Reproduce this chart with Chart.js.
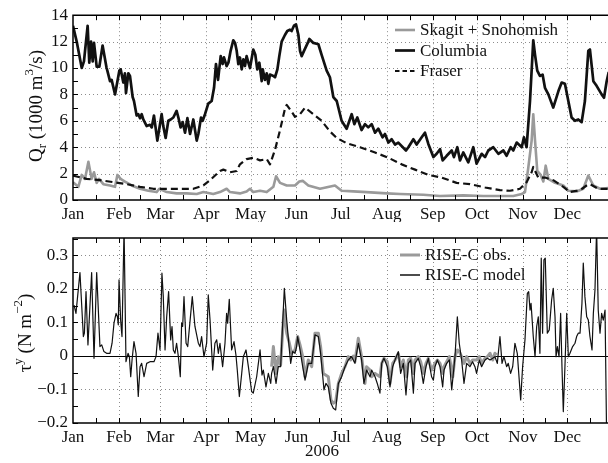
<!DOCTYPE html>
<html>
<head>
<meta charset="utf-8">
<script src="https://cdn.jsdelivr.net/npm/chart.js@4/dist/chart.umd.min.js"></script>
<style>
  html, body { margin: 0; padding: 0; background: #fff; overflow: hidden; }
  #wrap { position: relative; width: 608px; height: 463px; }
  #top, #bot { position: absolute; left: 0; width: 608px; }
  #top { top: 0; height: 222px; }
  #bot { top: 222px; height: 241px; }
  canvas { display: block; }
</style>
</head>
<body>
<div id="wrap">
  <div id="top"><canvas id="flow" width="608" height="222"></canvas></div>
  <div id="bot"><canvas id="stress" width="608" height="241"></canvas></div>
</div>
<script>
// ---- calendar axis (day of year 2006) ----
const monthStarts = [0, 31, 59, 90, 120, 151, 181, 212, 243, 273, 304, 334];
const monthNames = ['Jan', 'Feb', 'Mar', 'Apr', 'May', 'Jun', 'Jul', 'Aug', 'Sep', 'Oct', 'Nov', 'Dec'];
const yearLabel = '2006';
const dayEnd = 361.5;

// ---- river discharge, 1000 m^3/s : [day, Q] ----
const skagitSnohomish = [
  [0,1.35],[3.6,1.0],[5.9,1.9],[8.1,1.6],[10.4,2.9],[12.6,1.6],[14.2,2.1],[16.0,1.3],[17.6,1.6],
  [20.5,1.2],[25.0,1.1],[28.4,1.0],[30.0,1.9],[32.2,1.6],[35.1,1.4],[39.6,1.1],[45.3,0.85],
  [50.9,0.7],[56.5,0.6],[58.3,0.85],[63.3,0.6],[70.0,0.5],[76.8,0.5],[83.6,0.45],[88.1,0.6],
  [94.8,0.45],[99.3,0.6],[103.8,0.85],[106.1,0.6],[112.8,0.5],[117.3,0.65],[119.6,0.85],
  [121.8,0.6],[126.4,0.7],[130.9,0.6],[135.4,1.0],[137.2,1.8],[139.9,1.3],[144.4,1.1],
  [150.0,1.1],[152.9,1.4],[155.2,1.45],[159.0,1.1],[166.9,0.85],[177.0,1.1],[181.5,0.7],
  [189.4,0.65],[198.4,0.6],[211.9,0.5],[221.0,0.45],[236.7,0.4],[248.0,0.3],[263.7,0.35],
  [277.3,0.3],[297.5,0.3],[303.2,0.45],[305.4,0.6],[307.7,2.5],[309.9,4.5],[311.0,6.5],
  [312.2,4.5],[313.7,2.2],[316.0,1.9],[317.8,1.4],[319.4,2.6],[321.2,1.6],[325.7,1.3],
  [331.3,1.1],[334.7,0.7],[340.3,0.65],[344.8,0.85],[348.2,1.85],[351.6,1.1],[356.1,0.85],
  [362.0,0.9]
];

const columbia = [
  [0,13.2],[2.5,12.0],[5.9,10.0],[7.4,10.5],[9.9,13.2],[11.0,10.4],[12.2,12.0],[13.3,10.5],
  [14.2,11.9],[16.0,10.1],[17.8,10.1],[20.0,11.7],[22.7,10.0],[23.2,9.8],[25.0,9.0],[26.1,9.1],
  [28.4,8.0],[31.3,9.8],[32.2,9.9],[34.0,8.9],[35.1,9.6],[35.8,8.1],[37.4,9.6],[38.5,9.4],
  [40.3,7.8],[41.2,7.5],[43.0,6.4],[44.1,6.5],[45.3,6.2],[46.4,6.5],[47.5,6.1],[49.8,5.6],
  [52.0,5.7],[53.2,5.5],[54.7,6.4],[57.0,4.5],[59.9,6.5],[61.0,5.6],[62.6,4.7],[64.4,6.0],
  [66.0,6.1],[67.8,6.25],[70.0,6.75],[71.2,6.25],[72.7,5.5],[74.1,5.9],[75.7,5.1],[77.3,6.2],
  [79.1,5.0],[81.3,6.1],[83.6,4.5],[84.7,5.0],[86.5,6.25],[87.6,6.0],[89.2,6.5],[91.4,7.3],
  [93.7,7.5],[95.3,8.5],[96.6,10.3],[98.0,9.1],[99.8,10.9],[101.1,10.3],[102.0,10.8],
  [103.8,10.15],[105.0,10.4],[106.5,11.3],[108.3,12.1],[109.5,11.9],[110.6,11.3],[111.7,10.3],
  [112.8,10.8],[114.0,9.9],[115.1,10.65],[116.2,10.15],[117.3,10.9],[118.5,10.4],[119.6,10.0],
  [121.8,11.4],[123.2,11.0],[124.5,9.9],[125.9,10.4],[127.5,9.0],[128.2,9.9],[129.7,9.1],
  [130.9,9.6],[132.0,8.8],[133.1,9.5],[135.4,9.4],[136.5,9.3],[138.1,9.9],[139.4,10.9],
  [141.0,12.0],[143.2,12.5],[144.8,12.8],[146.6,12.9],[147.7,12.8],[149.3,13.2],[150.7,13.3],
  [152.3,12.5],[153.4,11.3],[154.5,10.9],[156.1,11.3],[159.0,12.0],[159.7,12.2],[162.4,11.9],
  [165.8,11.8],[168.0,11.0],[171.4,9.8],[173.6,9.3],[175.9,7.8],[178.2,7.5],[181.5,6.0],
  [184.9,5.4],[188.3,6.5],[190.1,5.75],[192.1,6.25],[195.0,5.3],[197.3,5.75],[199.5,5.5],
  [201.8,5.75],[204.1,5.1],[206.3,5.4],[209.2,4.75],[210.8,5.0],[213.1,4.35],[215.3,4.6],
  [217.6,4.2],[219.8,4.35],[225.0,3.75],[226.6,4.0],[230.0,4.6],[232.2,4.2],[235.6,4.75],
  [237.8,5.1],[240.1,4.25],[243.5,3.25],[245.7,3.5],[248.0,3.85],[249.8,3.0],[252.5,3.35],
  [255.9,3.75],[257.4,3.25],[259.7,4.0],[261.5,3.0],[263.7,3.6],[267.1,2.85],[270.5,4.0],
  [272.7,2.75],[276.1,3.5],[278.4,3.25],[280.6,3.75],[284.0,4.0],[287.4,3.5],[290.8,3.75],
  [293.0,3.35],[295.7,4.0],[297.5,3.75],[299.8,4.35],[303.2,4.0],[304.7,4.75],[306.5,4.0],
  [308.8,7.5],[311.0,12.1],[312.2,11.0],[313.7,9.8],[315.5,9.4],[317.3,9.5],[318.9,8.5],
  [321.2,8.0],[324.5,7.0],[328.0,8.25],[330.2,8.9],[332.4,8.8],[334.7,7.5],[336.9,6.25],
  [339.2,6.0],[341.4,6.1],[343.7,5.9],[345.9,7.5],[348.2,11.3],[349.3,11.4],[351.6,9.0],
  [353.8,8.65],[357.2,8.0],[358.8,7.75],[360.6,9.0],[362.0,9.7]
];

const fraser = [
  [0,1.85],[9.2,1.6],[18.2,1.5],[27.3,1.35],[36.3,1.2],[45.3,1.0],[54.3,0.85],[72.3,0.85],
  [81.3,0.85],[88.1,1.1],[92.6,1.5],[99.3,2.2],[101.6,2.3],[106.1,2.1],[110.6,2.2],[112.8,2.7],
  [117.3,3.1],[121.8,3.2],[126.4,3.0],[130.9,3.1],[133.1,2.7],[136.5,3.8],[139.9,5.3],
  [143.2,6.9],[144.4,7.2],[147.7,6.7],[150.0,6.3],[153.4,6.5],[156.8,7.0],[162.4,6.5],
  [168.0,6.0],[173.6,5.2],[178.2,4.7],[184.9,4.3],[193.9,4.0],[204.1,3.6],[213.1,3.2],
  [222.1,2.7],[231.1,2.3],[240.1,1.9],[249.1,1.7],[259.2,1.3],[268.2,1.2],[278.4,0.95],
  [288.5,0.75],[295.3,0.7],[302.0,0.85],[306.5,1.35],[309.9,2.1],[311.0,2.5],[314.4,1.7],
  [318.9,1.7],[324.5,1.5],[331.3,1.0],[335.8,0.6],[342.6,0.75],[347.1,1.1],[349.3,1.2],
  [354.9,0.85],[362.0,0.85]
];

// ---- alongshore wind stress, N m^-2 : [day, tau] ----
const riseObs = [
  [134.2,-0.032],[135.4,0.028],[137.2,-0.052],[138.7,-0.002],[140.3,-0.027],[142.1,0.107],
  [142.8,0.137],[144.4,0.068],[146.2,0.038],[147.7,0.008],[150.0,0.018],[151.8,0.058],
  [153.4,0.033],[155.2,-0.002],[156.8,-0.062],[159.0,-0.012],[161.3,-0.032],[163.5,0.068],
  [165.8,0.068],[167.3,0.028],[169.1,-0.052],[172.5,-0.062],[174.3,-0.131],[175.9,-0.141],
  [177.5,-0.136],[179.3,-0.082],[181.5,-0.052],[183.8,-0.032],[186.0,-0.002],[187.6,-0.012],
  [189.4,0.0],[190.5,-0.017],[192.8,0.053],[195.0,-0.002],[197.3,-0.082],[198.4,-0.032],
  [200.7,-0.042],[201.8,-0.062],[204.1,-0.052],[207.4,-0.062],[208.6,-0.022],[210.1,-0.007],
  [212.4,-0.017],[214.2,-0.082],[216.0,-0.022],[217.6,-0.012],[219.8,0.008],[221.4,-0.032],
  [223.2,-0.012],[225.5,-0.062],[226.6,-0.012],[228.2,-0.007],[230.0,-0.052],[231.1,-0.012],
  [233.3,-0.002],[234.9,-0.017],[236.7,-0.052],[238.5,-0.022],[240.1,-0.007],[242.3,-0.042],
  [244.6,-0.022],[246.2,-0.012],[248.0,-0.022],[249.8,-0.052],[250.7,-0.032],[252.5,-0.017],
  [254.3,-0.002],[256.6,-0.062],[258.1,-0.002],[259.7,0.018],[261.0,0.013],[262.6,-0.002],
  [264.2,-0.022],[266.0,-0.002],[268.2,-0.022],[270.0,-0.012],[272.7,-0.012],[274.5,-0.002],
  [276.1,-0.022],[278.4,-0.007],[280.0,-0.002],[281.8,0.008],[283.6,-0.012],[285.1,0.008],
  [286.3,0.003]
];

const riseModel = [
  [0.7,0.152],[2.0,0.127],[4.7,0.249],[7.0,0.058],[7.7,0.068],[8.8,0.192],[10.1,0.033],
  [12.6,0.249],[14.2,-0.007],[16.0,0.249],[18.2,0.028],[19.4,0.033],[20.9,0.013],[22.7,0.008],
  [25.0,0.008],[26.4,0.038],[27.7,0.098],[29.1,0.127],[30.0,0.117],[30.6,0.093],[31.1,0.227],
  [32.2,0.107],[32.7,0.078],[33.1,0.058],[34.5,0.38],[35.8,-0.017],[37.2,0.008],[38.1,-0.002],
  [39.0,-0.062],[39.9,-0.012],[41.2,0.043],[42.6,0.008],[44.1,-0.121],[45.3,-0.032],
  [46.4,-0.022],[48.0,-0.062],[49.8,-0.022],[52.0,-0.017],[54.7,-0.017],[56.1,-0.002],
  [57.4,0.068],[58.8,0.018],[60.1,0.247],[61.0,0.177],[62.2,0.018],[63.3,0.117],[64.6,0.192],
  [66.0,0.048],[66.9,0.088],[67.8,0.018],[68.9,0.008],[70.0,0.038],[71.2,-0.002],[72.5,-0.062],
  [73.4,0.098],[74.1,0.088],[75.0,0.177],[76.4,0.038],[77.5,0.028],[80.6,0.177],[82.4,0.088],
  [84.7,0.038],[85.8,0.028],[86.9,0.058],[88.5,-0.002],[90.3,0.038],[91.4,0.182],[92.6,0.107],
  [94.4,-0.042],[95.9,0.038],[97.1,0.048],[98.2,0.008],[99.3,0.038],[101.1,-0.032],
  [102.7,0.038],[103.8,0.127],[104.5,0.098],[105.6,0.169],[107.2,0.018],[108.8,0.043],
  [110.1,0.003],[111.0,-0.042],[112.4,-0.121],[114.0,-0.052],[115.1,-0.002],[116.9,0.018],
  [118.5,-0.032],[120.7,-0.106],[121.8,-0.111],[124.1,-0.062],[126.4,0.018],[127.7,-0.057],
  [128.6,-0.042],[130.4,-0.092],[132.0,-0.052],[133.6,-0.082],[134.2,-0.052],[135.4,-0.032],
  [137.2,-0.082],[138.7,-0.032],[140.3,-0.032],[142.1,0.137],[142.8,0.202],[144.4,0.107],
  [146.2,0.018],[147.1,-0.022],[148.4,0.013],[150.0,0.008],[151.1,0.028],[151.8,0.058],
  [153.4,0.018],[155.2,-0.032],[156.8,-0.072],[159.0,-0.022],[161.3,-0.022],[163.5,0.063],
  [165.8,0.058],[167.3,0.008],[169.6,-0.101],[170.9,-0.082],[172.5,-0.092],[174.3,-0.141],
  [175.9,-0.156],[177.5,-0.161],[179.3,-0.082],[181.5,-0.062],[183.8,-0.032],[186.0,-0.012],
  [188.3,-0.002],[190.5,-0.022],[192.8,0.038],[195.0,-0.012],[196.6,-0.082],[198.4,-0.042],
  [200.7,-0.062],[201.8,-0.042],[204.1,-0.062],[205.6,-0.082],[207.4,-0.111],[208.6,-0.022],
  [210.1,-0.007],[212.4,-0.032],[214.2,-0.092],[216.0,-0.032],[217.6,-0.012],[219.8,0.013],
  [221.4,-0.052],[223.2,-0.022],[225.0,-0.116],[226.6,-0.022],[228.2,-0.012],[230.0,-0.111],
  [231.1,-0.022],[233.3,-0.007],[234.9,-0.032],[236.7,-0.082],[238.5,-0.032],[240.1,-0.007],
  [242.3,-0.062],[243.5,-0.072],[244.6,-0.032],[246.2,-0.012],[248.0,-0.032],[249.8,-0.092],
  [250.7,-0.042],[252.5,-0.022],[254.3,-0.012],[255.9,-0.101],[258.1,-0.002],[259.7,0.117],
  [261.0,0.038],[262.6,-0.012],[264.2,-0.082],[266.0,-0.022],[268.2,-0.032],[270.0,-0.017],
  [271.6,-0.032],[272.7,-0.052],[274.5,-0.012],[276.1,-0.032],[278.4,-0.012],[280.0,-0.007],
  [281.8,-0.012],[283.6,-0.007],[285.1,-0.002],[286.7,-0.022],[288.5,0.058],[289.9,-0.022],
  [291.2,-0.002],[293.0,-0.032],[294.1,-0.022],[295.7,-0.052],[297.1,-0.032],[298.6,0.038],
  [300.2,0.008],[302.5,-0.131],[303.8,-0.032],[305.4,0.048],[307.0,0.187],[307.9,0.192],
  [308.8,0.137],[309.5,0.157],[311.0,0.058],[312.2,-0.002],[313.3,0.088],[314.4,0.117],
  [315.5,0.008],[316.4,0.292],[317.3,0.068],[318.2,0.287],[319.1,0.292],[320.5,0.068],
  [321.8,0.078],[323.4,0.167],[324.5,0.202],[325.7,0.117],[326.4,-0.002],[327.3,0.028],
  [328.4,-0.002],[329.5,0.127],[330.4,-0.032],[331.3,-0.166],[332.4,-0.032],[333.6,0.127],
  [334.7,-0.002],[335.8,0.008],[337.6,0.028],[339.2,0.038],[340.3,0.058],[341.4,0.068],
  [342.6,0.068],[343.9,0.157],[344.8,0.277],[345.9,0.177],[347.1,0.117],[348.2,0.107],
  [349.3,0.058],[350.7,0.018],[351.6,0.127],[352.7,0.197],[353.8,0.38],[354.9,0.137],
  [356.1,0.068],[357.2,0.127],[358.3,0.107],[359.5,0.137],[360.6,-0.25]
];

const qTicks = [0, 2, 4, 6, 8, 10, 12, 14];
const tauTicks = [-0.2, -0.1, 0, 0.1, 0.2, 0.3];

// ---- drawing helpers ----
const SERIF = '"Liberation Serif", "Times New Roman", serif';
const INK = '#111';
const GREY = '#9a9a9a';
const asXY = pairs => pairs.map(([d, v]) => ({ x: d, y: v }));
const midMonths = monthStarts.map((d, i) => (d + (i < 11 ? monthStarts[i + 1] : 365)) / 2);

function fmtTau(v) {
  if (Math.abs(v) < 1e-9) return '0';
  return (v < 0 ? '\u2212' : '') + Math.abs(v).toFixed(1);
}

// rotated axis label assembled from pieces (sub/superscripts use a vertical offset "dy")
function drawRotatedRich(ctx, pieces, x, yMid) {
  ctx.save();
  ctx.translate(x, yMid);
  ctx.rotate(-Math.PI / 2);
  ctx.textBaseline = 'alphabetic';
  ctx.textAlign = 'left';
  ctx.fillStyle = INK;
  const widths = pieces.map(p => { ctx.font = p.size + 'px ' + SERIF; return ctx.measureText(p.text).width; });
  let cx = -widths.reduce((s, w) => s + w, 0) / 2;
  pieces.forEach((p, i) => {
    ctx.font = p.size + 'px ' + SERIF;
    ctx.fillText(p.text, cx, p.dy);
    cx += widths[i];
  });
  ctx.restore();
}

// axes box, dotted grid, inward ticks, legend and titles for one panel
function makeFrame(cfg) {
  return {
    id: 'frame',
    beforeDatasetsDraw(chart) {
      const { ctx, chartArea: a } = chart;
      const xs = chart.scales.x, ys = chart.scales.y;
      ctx.save();
      ctx.beginPath();
      ctx.rect(a.left, a.top, a.right - a.left, a.bottom - a.top);
      ctx.clip();
      ctx.strokeStyle = '#8c8c8c';
      ctx.lineWidth = 1;
      ctx.setLineDash([1, 3]);
      ctx.beginPath();
      monthStarts.slice(1).forEach(d => {
        const px = Math.round(xs.getPixelForValue(d)) + 0.5;
        ctx.moveTo(px, a.top); ctx.lineTo(px, a.bottom);
      });
      cfg.gridY.forEach(v => {
        const py = Math.round(ys.getPixelForValue(v)) + 0.5;
        ctx.moveTo(a.left, py); ctx.lineTo(a.right, py);
      });
      ctx.stroke();
      ctx.setLineDash([]);
      if (cfg.zeroLine) {
        const py = Math.round(ys.getPixelForValue(0)) + 0.5;
        ctx.strokeStyle = '#000';
        ctx.lineWidth = 1;
        ctx.beginPath(); ctx.moveTo(a.left, py); ctx.lineTo(a.right, py); ctx.stroke();
      }
      ctx.restore();
    },
    afterDatasetsDraw(chart) {
      const { ctx, chartArea: a } = chart;
      const xs = chart.scales.x, ys = chart.scales.y;
      ctx.save();
      // box: the right-hand side runs off the page
      ctx.strokeStyle = '#000';
      ctx.lineWidth = 1.5;
      ctx.beginPath();
      ctx.moveTo(a.right + 1, a.top); ctx.lineTo(a.left, a.top);
      ctx.lineTo(a.left, a.bottom); ctx.lineTo(a.right + 1, a.bottom);
      ctx.stroke();
      // inward tick marks
      ctx.lineWidth = 1;
      ctx.beginPath();
      monthStarts.concat(midMonths).forEach(d => {
        if (d <= 0 || d >= dayEnd) return;
        const px = Math.round(xs.getPixelForValue(d)) + 0.5;
        ctx.moveTo(px, a.bottom); ctx.lineTo(px, a.bottom - 5);
        ctx.moveTo(px, a.top); ctx.lineTo(px, a.top + 5);
      });
      for (let k = 0; ; k++) {
        const v = cfg.minor.from + k * cfg.minor.step;
        if (v > cfg.minor.to + 1e-9) break;
        const py = Math.round(ys.getPixelForValue(v)) + 0.5;
        ctx.moveTo(a.left, py); ctx.lineTo(a.left + 5, py);
      }
      ctx.stroke();
      // legend, drawn without a box
      const L = cfg.legend;
      ctx.font = L.size + 'px ' + SERIF;
      ctx.textBaseline = 'middle';
      ctx.textAlign = 'left';
      L.items.forEach((it, i) => {
        const yy = L.y + i * L.dy;
        ctx.strokeStyle = it.color;
        ctx.lineWidth = it.width;
        ctx.setLineDash(it.dash || []);
        ctx.beginPath(); ctx.moveTo(L.x0, yy); ctx.lineTo(L.x1, yy); ctx.stroke();
        ctx.setLineDash([]);
        ctx.fillStyle = INK;
        ctx.fillText(it.label, L.tx, yy + 1);
      });
      // axis titles
      drawRotatedRich(ctx, cfg.yTitle.pieces, cfg.yTitle.x, cfg.yTitle.y);
      if (cfg.xTitle) {
        ctx.font = cfg.xTitle.size + 'px ' + SERIF;
        ctx.textAlign = 'center';
        ctx.textBaseline = 'middle';
        ctx.fillStyle = INK;
        ctx.fillText(cfg.xTitle.text, cfg.xTitle.x, cfg.xTitle.y);
      }
      ctx.restore();
    }
  };
}

function xAxis(height) {
  return {
    type: 'linear', min: 0, max: dayEnd,
    afterBuildTicks: s => { s.ticks = monthStarts.map(v => ({ value: v })); },
    afterFit: s => { s.height = height; },
    grid: { display: false, drawTicks: false, tickLength: 0 },
    border: { display: false },
    ticks: {
      autoSkip: false, maxRotation: 0, padding: 4, color: INK,
      font: { family: SERIF, size: 17 },
      callback: v => monthNames[monthStarts.indexOf(v)]
    }
  };
}

function yAxis(min, max, tickVals, fmt) {
  return {
    type: 'linear', min, max,
    afterBuildTicks: s => { s.ticks = tickVals.map(v => ({ value: v })); },
    afterFit: s => { s.width = 73; },
    grid: { display: false, drawTicks: false, tickLength: 0 },
    border: { display: false },
    ticks: { padding: 5, color: INK, font: { family: SERIF, size: 17 }, callback: fmt }
  };
}

function baseOptions(padTop, xs, ys) {
  return {
    responsive: false,
    animation: false,
    events: [],
    elements: { point: { radius: 0 }, line: { tension: 0, borderJoinStyle: 'round', borderCapStyle: 'butt' } },
    layout: { padding: { top: padTop, left: 0, right: 0, bottom: 0 } },
    scales: { x: xs, y: ys },
    plugins: { legend: { display: false }, tooltip: { enabled: false } }
  };
}

// ---- upper panel: river discharge ----
new Chart(document.getElementById('flow'), {
  type: 'line',
  data: {
    datasets: [
      { label: 'Skagit + Snohomish', data: asXY(skagitSnohomish), borderColor: GREY, borderWidth: 2.6, order: 3 },
      { label: 'Columbia', data: asXY(columbia), borderColor: INK, borderWidth: 2.7, order: 2 },
      { label: 'Fraser', data: asXY(fraser), borderColor: INK, borderWidth: 2.2, borderDash: [7, 4], order: 1 }
    ]
  },
  options: baseOptions(14, xAxis(22), yAxis(0, 14, qTicks, v => String(v))),
  plugins: [makeFrame({
    gridY: [2, 4, 6, 8, 10, 12],
    zeroLine: false,
    minor: { from: 0, to: 14, step: 1 },
    legend: {
      x0: 395, x1: 415, tx: 420, y: 30, dy: 20.5, size: 17,
      items: [
        { label: 'Skagit + Snohomish', color: GREY, width: 2.6 },
        { label: 'Columbia', color: INK, width: 2.7 },
        { label: 'Fraser', color: INK, width: 2.2, dash: [4.5, 3] }
      ]
    },
    yTitle: {
      x: 42, y: 106,
      pieces: [
        { text: 'Q', size: 19, dy: 0 },
        { text: 'r', size: 13, dy: 4 },
        { text: ' (1000 m', size: 19, dy: 0 },
        { text: '3', size: 13, dy: -9 },
        { text: '/s)', size: 19, dy: 0 }
      ]
    }
  })]
});

// ---- lower panel: alongshore wind stress ----
new Chart(document.getElementById('stress'), {
  type: 'line',
  data: {
    datasets: [
      { label: 'RISE-C obs.', data: asXY(riseObs), borderColor: GREY, borderWidth: 3, order: 2 },
      { label: 'RISE-C model', data: asXY(riseModel), borderColor: INK, borderWidth: 1.2, order: 1 }
    ]
  },
  options: baseOptions(16, xAxis(40), yAxis(-0.2, 0.352, tauTicks, fmtTau)),
  plugins: [makeFrame({
    gridY: [-0.1, 0.1, 0.2, 0.3],
    zeroLine: true,
    minor: { from: -0.2, to: 0.35, step: 0.05 },
    legend: {
      x0: 400, x1: 420, tx: 425, y: 33, dy: 20, size: 17,
      items: [
        { label: 'RISE-C obs.', color: GREY, width: 3 },
        { label: 'RISE-C model', color: INK, width: 1.5 }
      ]
    },
    yTitle: {
      x: 31, y: 111,
      pieces: [
        { text: '\u03c4', size: 19, dy: 0 },
        { text: 'y', size: 13, dy: -9 },
        { text: ' (N m', size: 19, dy: 0 },
        { text: '\u22122', size: 13, dy: -9 },
        { text: ')', size: 19, dy: 0 }
      ]
    },
    xTitle: { text: yearLabel, x: 322, y: 230, size: 17 }
  })]
});
</script>
</body>
</html>
